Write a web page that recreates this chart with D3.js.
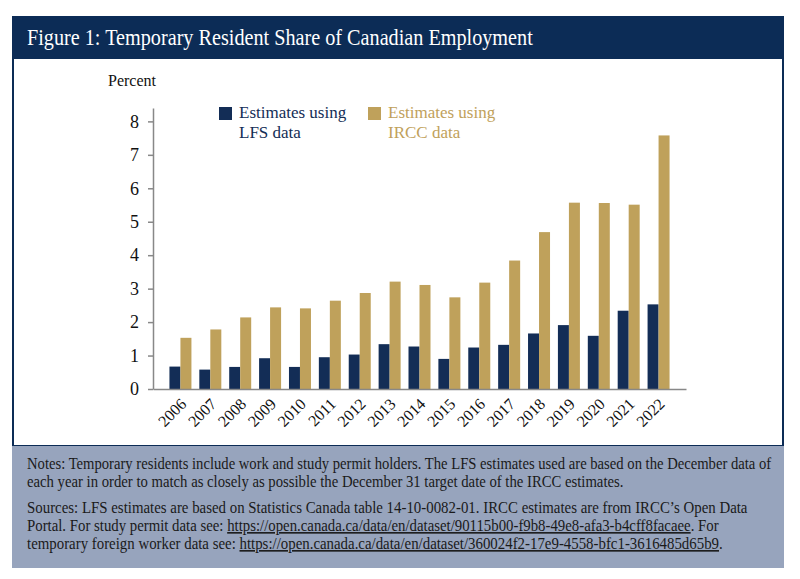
<!DOCTYPE html>
<html>
<head>
<meta charset="utf-8">
<script src="https://cdn.jsdelivr.net/npm/d3@7"></script>
<style>
  body { margin: 0; background: #fff; }
  svg text { font-family: "Liberation Serif", "DejaVu Serif", serif !important; }
</style>
</head>
<body>
<div id="output"></div>
<script>
var w = 800;
var h = 579;

var years = ['2006', '2007', '2008', '2009', '2010', '2011', '2012', '2013', '2014',
             '2015', '2016', '2017', '2018', '2019', '2020', '2021', '2022'];
var lfs = [0.67, 0.58, 0.66, 0.92, 0.66, 0.95, 1.03, 1.34, 1.27, 0.90, 1.24, 1.32, 1.66, 1.91, 1.59, 2.34, 2.53];
var ircc = [1.53, 1.78, 2.14, 2.44, 2.41, 2.64, 2.87, 3.21, 3.11, 2.74, 3.18, 3.84, 4.69, 5.57, 5.56, 5.51, 7.58];
var yTicks = [0, 1, 2, 3, 4, 5, 6, 7, 8];
var seriesNames = ['LFS', 'IRCC'];

var navy = '#0c2c56';
var barNavy = '#132d56';
var gold = '#bfa15b';
var notesBg = '#97a4bd';

var svg = d3.select('#output').append('svg')
	.attr('width', w)
	.attr('height', h);

// frame: header band, white chart panel, grey notes panel
svg.append('rect')
	.attr('x', 13).attr('y', 58).attr('width', 770).attr('height', 388)
	.attr('fill', '#fff').attr('stroke', navy).attr('stroke-width', 2);
svg.append('rect')
	.attr('x', 12).attr('y', 16).attr('width', 772).attr('height', 42)
	.attr('fill', navy);
svg.append('rect')
	.attr('x', 12).attr('y', 446).attr('width', 772).attr('height', 122)
	.attr('fill', notesBg);

// squeeze a line horizontally (the original's Garamond is narrower than Times)
function squeeze(g, x0, y0, target) {
	var len = g.select('text').node().getComputedTextLength();
	g.attr('transform', 'translate(' + x0 + ',' + y0 + ') scale(' + (target / len) + ',1)');
}

var titleG = svg.append('g');
titleG.append('text')
	.attr('fill', '#fff')
	.attr('font-size', 24)
	.text('Figure 1: Temporary Resident Share of Canadian Employment');
squeeze(titleG, 27, 45, 506);

svg.append('text')
	.attr('x', 108).attr('y', 86)
	.attr('font-size', 16)
	.attr('fill', '#111')
	.text('Percent');

// scales
var x = d3.scaleBand()
	.domain(years)
	.range([153, 686])
	.paddingInner(0.264)
	.paddingOuter(0.55);

var x1 = d3.scaleBand()
	.domain(seriesNames)
	.range([0, x.bandwidth()]);

var y = d3.scaleLinear()
	.domain([0, 8.4])
	.range([389, 108]);

// y axis
var yAxis = svg.append('g')
	.attr('transform', 'translate(153,0)')
	.call(d3.axisLeft(y).tickValues(yTicks).tickSize(5).tickPadding(9).tickSizeOuter(0));
yAxis.select('.domain').attr('stroke', '#888').attr('stroke-width', 1.5);
yAxis.selectAll('.tick line').attr('stroke', '#888').attr('stroke-width', 1.5);
yAxis.selectAll('.tick text')
	.attr('font-size', 18)
	.attr('fill', '#111');

// bars
var groups = svg.selectAll('g.year')
	.data(years)
	.enter()
	.append('g')
	.attr('class', 'year')
	.attr('transform', function (d) { return 'translate(' + x(d) + ',0)'; });

groups.append('rect')
	.attr('x', x1('LFS'))
	.attr('y', function (d, i) { return y(lfs[i]); })
	.attr('width', x1.bandwidth())
	.attr('height', function (d, i) { return y(0) - y(lfs[i]); })
	.attr('fill', barNavy);

groups.append('rect')
	.attr('x', x1('IRCC'))
	.attr('y', function (d, i) { return y(ircc[i]); })
	.attr('width', x1.bandwidth())
	.attr('height', function (d, i) { return y(0) - y(ircc[i]); })
	.attr('fill', gold);

// x axis
var xAxis = svg.append('g')
	.attr('transform', 'translate(0,389)')
	.call(d3.axisBottom(x).tickSize(0).tickSizeOuter(0).tickPadding(0));
xAxis.select('.domain').attr('stroke', '#888').attr('stroke-width', 1.5);
xAxis.selectAll('.tick text')
	.attr('font-size', 16)
	.attr('fill', '#111')
	.attr('text-anchor', 'end')
	.attr('dy', 0)
	.attr('transform', 'translate(7,16) rotate(-45)');

// legend
var legend = [
	{ label: ['Estimates using', 'LFS data'], color: barNavy, x: 219 },
	{ label: ['Estimates using', 'IRCC data'], color: gold, x: 368 }
];
var lg = svg.selectAll('g.legend')
	.data(legend)
	.enter()
	.append('g')
	.attr('class', 'legend')
	.attr('transform', function (d) { return 'translate(' + d.x + ',107)'; });
lg.append('rect')
	.attr('width', 13).attr('height', 13)
	.attr('fill', function (d) { return d.color; });
var lgText = lg.append('text')
	.attr('x', 20)
	.attr('y', 11)
	.attr('font-size', 17)
	.attr('fill', function (d) { return d.color; });
lgText.selectAll('tspan')
	.data(function (d) { return d.label; })
	.enter()
	.append('tspan')
	.attr('x', 20)
	.attr('dy', function (d, i) { return i ? 20 : 0; })
	.text(function (d) { return d; });

// notes
var notes = [
	[{ t: 'Notes: Temporary residents include work and study permit holders. The LFS estimates used are based on the December data of' }],
	[{ t: 'each year in order to match as closely as possible the December 31 target date of the IRCC estimates.' }],
	[{ t: 'Sources: LFS estimates are based on Statistics Canada table 14-10-0082-01. IRCC estimates are from IRCC\u2019s Open Data' }],
	[{ t: 'Portal. For study permit data see: ' },
	 { t: 'https://open.canada.ca/data/en/dataset/90115b00-f9b8-49e8-afa3-b4cff8facaee', u: true },
	 { t: '. For' }],
	[{ t: 'temporary foreign worker data see: ' },
	 { t: 'https://open.canada.ca/data/en/dataset/360024f2-17e9-4558-bfc1-3616485d65b9', u: true },
	 { t: '.' }]
];
var notesY = [469, 487, 513, 531, 549];
var notesW = [745, 597, 721, 692, 696];

notes.forEach(function (line, li) {
	var g = svg.append('g').attr('class', 'note');
	g.append('text')
		.attr('font-size', 16)
		.attr('fill', '#1a1a1a')
		.selectAll('tspan')
		.data(line)
		.enter()
		.append('tspan')
		.style('text-decoration', function (d) { return d.u ? 'underline' : null; })
		.text(function (d) { return d.t; });
	squeeze(g, 27, notesY[li], notesW[li]);
});
</script>
</body>
</html>
